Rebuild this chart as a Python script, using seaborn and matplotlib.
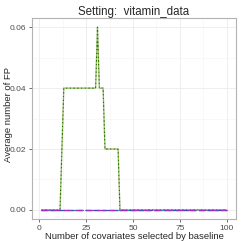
import numpy as np
import pandas as pd
import seaborn as sns
import matplotlib
matplotlib.use("Agg")
import matplotlib.pyplot as plt
from matplotlib.ticker import MultipleLocator

# number of covariates selected by baseline
n_cov = list(range(1, 101))

# average FP per method
fp_green = [0.0] * 11 + [0.02] + [0.04] * 18 + [0.06] + [0.04] * 3 + [0.02] * 8 + [0.0] * 58
fp_zero = [0.0] * 100

methods = ["m1", "m2", "m3", "m4", "m5"]
colors = ["#2f6b12", "#8cbf45", "#2aa198", "#3b4cc0", "#9b30c8"]
dashes = [(1.5, 1.5), (1.5, 1.5), (4, 2), (5, 2), (6, 3)]
values = [fp_green, fp_green, fp_zero, fp_zero, fp_zero]

df = pd.concat([pd.DataFrame({"k": n_cov, "fp": v, "method": m})
                for m, v in zip(methods, values)])

sns.set_theme(style="whitegrid")
plt.rcParams['font.family'] = ['Liberation Sans', 'DejaVu Sans']

fig = plt.figure(figsize=(2.41, 2.41), dpi=100)
ax = fig.add_axes([0.133, 0.091, 0.846, 0.834])

sns.lineplot(data=df, x="k", y="fp", hue="method", style="method",
             palette=dict(zip(methods, colors)),
             dashes=dict(zip(methods, dashes)),
             linewidth=0.9, legend=False, ax=ax)
# offset the second green line so both colours show through
ax.lines[1].set_linestyle((1.5, (1.5, 1.5)))

ax.set_xlim(-3.95, 104.95)
ax.set_ylim(-0.003, 0.063)
ax.set_xticks([0, 25, 50, 75, 100])
ax.set_yticks([0.0, 0.02, 0.04, 0.06])
ax.set_yticklabels(["0.00", "0.02", "0.04", "0.06"])
ax.xaxis.set_minor_locator(MultipleLocator(12.5))
ax.yaxis.set_minor_locator(MultipleLocator(0.01))
ax.grid(which="major", color="#ebebeb", linewidth=0.6)
ax.grid(which="minor", color="#f4f4f4", linewidth=0.4)
for s in ax.spines.values():
    s.set_color("#b3b3b3")
    s.set_linewidth(0.8)
ax.tick_params(axis="both", which="major", length=2.5, width=0.5, color="#333333",
               labelsize=6, labelcolor="#4d4d4d", pad=1.5, bottom=True, left=True)
ax.tick_params(which="minor", length=0)

ax.set_xlabel("Number of covariates selected by baseline", fontsize=6.8, labelpad=0)
ax.set_ylabel("Average number of FP", fontsize=6.8)
ax.yaxis.set_label_coords(-0.095, 0.52)
ax.set_title("Setting:  vitamin_data", fontsize=8.3, pad=2)

fig.savefig("out.png", dpi=100, facecolor="white")
